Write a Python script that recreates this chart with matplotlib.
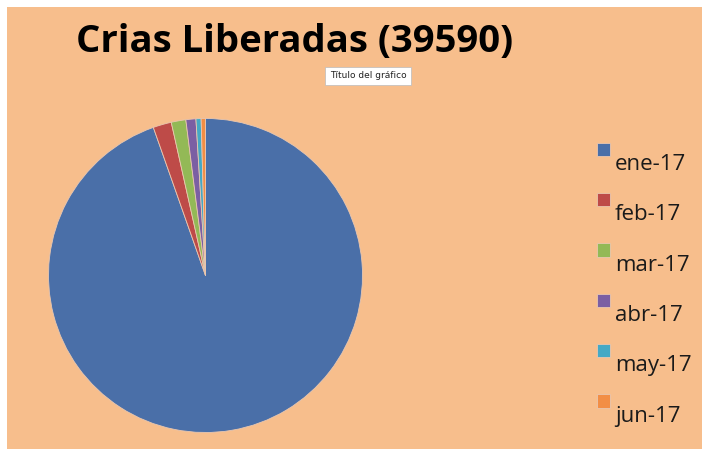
import matplotlib
matplotlib.use("Agg")
import matplotlib.pyplot as plt
from matplotlib.patches import Rectangle
from matplotlib.legend_handler import HandlerPatch

months = ["ene-17", "feb-17", "mar-17", "abr-17", "may-17", "jun-17"]
crias = [37456, 748, 594, 407, 209, 176]
colors = ["#4A6FA8", "#BE4B48", "#93B956", "#7B5FA3", "#45A9C5", "#F28E45"]
title = "Crias Liberadas (39590)"
bg = "#F7BE8C"

W, H = 703, 449
fig = plt.figure(figsize=(W / 100, H / 100), dpi=100)
fig.patch.set_facecolor("white")
fig.patches.append(Rectangle((7 / W, 0), (702 - 7) / W, (449 - 7) / H,
                             transform=fig.transFigure, facecolor=bg,
                             edgecolor="none", zorder=-10))

cx, cy, r = 205.5, 275.5, 157
ax = fig.add_axes([(cx - r) / W, (H - cy - r) / H, 2 * r / W, 2 * r / H])
ax.set_zorder(5)
ax.set_facecolor("none")
wedges, _ = ax.pie(crias, colors=colors, startangle=90, counterclock=False,
                   wedgeprops=dict(edgecolor="#E9C7B0", linewidth=0.6))
ax.set_xlim(-1, 1)
ax.set_ylim(-1, 1)
ax.set_aspect("equal")
ax.axis("off")

fig.text(295 / W, 1 - 42 / H, title, ha="center", va="center",
         fontsize=27.5, fontweight="bold", family="Open Sans", color="black",
         zorder=6)

fig.text(368 / W, 1 - 76 / H, "Título del gráfico", ha="center", va="center",
         fontsize=6.5, color="#222222", family="DejaVu Sans", zorder=6,
         bbox=dict(boxstyle="square,pad=0.55", facecolor="white",
                   edgecolor="#bbbbbb", linewidth=0.5))


def raised_square(legend, orig_handle, xdescent, ydescent, width, height, fontsize):
    s = height * 0.85
    return Rectangle((-xdescent, -ydescent + height * 0.9), s, s)


leg = fig.legend(wedges, months, loc="upper left",
                 bbox_to_anchor=(577 / W, 1 - 134 / H),
                 frameon=False, labelspacing=1.32,
                 handlelength=0.7, handleheight=0.7, handletextpad=0.1,
                 prop=dict(family="Open Sans", size=16),
                 handler_map={w: HandlerPatch(patch_func=raised_square) for w in wedges})
leg.set_zorder(6)
for t in leg.get_texts():
    t.set_color("#1a1a1a")

fig.savefig("out.png", dpi=100, facecolor=fig.get_facecolor())
